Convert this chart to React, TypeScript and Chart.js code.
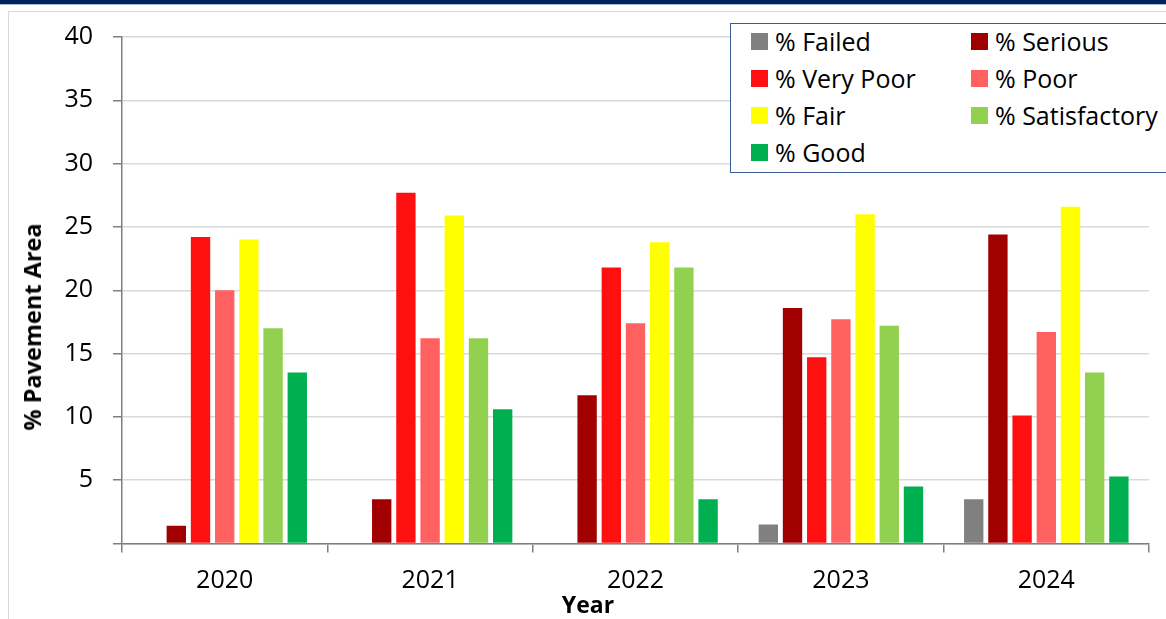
import React, { useEffect, useRef } from "react";
import { Chart, registerables } from "chart.js";

Chart.register(...registerables);

// Survey years on the category axis
const years = ["2020", "2021", "2022", "2023", "2024"];

// Share of pavement area (%) by condition class
const failed = [0, 0, 0, 1.5, 3.5];
const serious = [1.4, 3.5, 11.7, 18.6, 24.4];
const veryPoor = [24.2, 27.7, 21.8, 14.7, 10.1];
const poor = [20.0, 16.2, 17.4, 17.7, 16.7];
const fair = [24.0, 25.9, 23.8, 26.0, 26.6];
const satisfactory = [17.0, 16.2, 21.8, 17.2, 13.5];
const good = [13.5, 10.6, 3.5, 4.5, 5.3];

const seriesNames = [
  "% Failed",
  "% Serious",
  "% Very Poor",
  "% Poor",
  "% Fair",
  "% Satisfactory",
  "% Good",
];
const seriesValues = [failed, serious, veryPoor, poor, fair, satisfactory, good];
const seriesColors = [
  "#808080",
  "#A00000",
  "#FF1010",
  "#FF6161",
  "#FFFF00",
  "#92D050",
  "#00B050",
];

// Y axis ticks
const yMin = 0;
const yMax = 40;
const yStep = 5;

const FONT = "'Open Sans', 'Noto Sans', sans-serif";

export default function App() {
  const canvasRef = useRef<HTMLCanvasElement | null>(null);

  useEffect(() => {
    const canvas = canvasRef.current;
    if (!canvas) return;
    const chart = new Chart(canvas, {
      type: "bar",
      data: {
        labels: years,
        datasets: seriesNames.map((name, i) => ({
          label: name,
          data: seriesValues[i],
          backgroundColor: seriesColors[i],
          borderWidth: 0,
          categoryPercentage: 0.8245,
          barPercentage: 0.8,
        })),
      },
      options: {
        animation: false,
        responsive: false,
        maintainAspectRatio: false,
        layout: { padding: { top: 37, right: 17, left: 0, bottom: 0 } },
        plugins: {
          legend: { display: false },
          tooltip: { enabled: false },
        },
        scales: {
          x: {
            grid: {
              display: true,
              drawOnChartArea: false,
              drawTicks: true,
              tickLength: 9,
              tickColor: "#7f7f7f",
              lineWidth: 1.5,
              offset: true,
            },
            border: { display: true, color: "#7f7f7f", width: 1.5 },
            ticks: {
              color: "#000",
              padding: 13,
              font: { family: FONT, size: 25 },
              maxRotation: 0,
            },
            afterFit: (scale: any) => {
              scale.height = 75.5;
            },
          },
          y: {
            min: yMin,
            max: yMax,
            grid: {
              color: "#d9d9d9",
              lineWidth: 1.5,
              tickLength: 9,
              tickColor: "#7f7f7f",
            },
            border: { display: true, color: "#7f7f7f", width: 1.5 },
            ticks: {
              stepSize: yStep,
              color: "#000",
              padding: 20,
              font: { family: FONT, size: 25 },
              callback: (v: any) => (Number(v) === 0 ? "" : String(v)),
            },
            afterFit: (scale: any) => {
              scale.width = 122;
            },
          },
        },
      },
    });
    return () => chart.destroy();
  }, []);

  const legendRows: number[][] = [];
  for (let i = 0; i < seriesNames.length; i += 2) {
    legendRows.push([i, i + 1].filter((k) => k < seriesNames.length));
  }

  return (
    <div
      style={{
        position: "fixed",
        left: 0,
        top: 0,
        width: 1166,
        height: 619,
        overflow: "hidden",
        background: "#fff",
        fontFamily: FONT,
      }}
    >
      {/* navy banner strip */}
      <div
        style={{
          position: "absolute",
          left: 0,
          top: 0,
          width: 1166,
          height: 4,
          background: "#002060",
          borderBottom: "1px solid #a9b8d3",
        }}
      />
      {/* outer chart frame */}
      <div
        style={{
          position: "absolute",
          left: 8,
          top: 11,
          width: 1200,
          height: 700,
          border: "1.5px solid #d9d9d9",
        }}
      />
      <canvas
        ref={canvasRef}
        width={1166}
        height={619}
        style={{ position: "absolute", left: 0, top: 0, width: 1166, height: 619 }}
      />
      {/* y axis title */}
      <div
        style={{
          position: "absolute",
          left: 32,
          top: 327,
          transform: "translate(-50%, -50%) rotate(-90deg)",
          whiteSpace: "nowrap",
          fontWeight: 700,
          fontSize: 23.5,
          color: "#000",
        }}
      >
        % Pavement Area
      </div>
      {/* x axis title */}
      <div
        style={{
          position: "absolute",
          left: 588,
          top: 604,
          transform: "translate(-50%, -50%)",
          whiteSpace: "nowrap",
          fontWeight: 700,
          fontSize: 23,
          color: "#000",
        }}
      >
        Year
      </div>
      {/* legend */}
      <div
        style={{
          position: "absolute",
          left: 730,
          top: 23,
          width: 460,
          height: 148,
          border: "1px solid #3a5a96",
          background: "#fff",
        }}
      >
        {legendRows.map((row, r) =>
          row.map((k, c) => (
            <div
              key={k}
              style={{
                position: "absolute",
                left: 20 + c * 220,
                top: r * 37,
                height: 34,
                display: "flex",
                alignItems: "center",
                whiteSpace: "nowrap",
                fontSize: 25,
                color: "#000",
              }}
            >
              <span
                style={{
                  display: "inline-block",
                  width: 17,
                  height: 17,
                  background: seriesColors[k],
                  marginRight: 7,
                }}
              />
              {seriesNames[k]}
            </div>
          ))
        )}
      </div>
    </div>
  );
}
